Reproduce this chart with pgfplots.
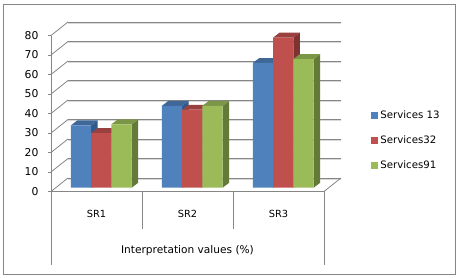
\documentclass[border=0pt]{standalone}
\usepackage{pgfplots}
\pgfplotsset{compat=1.18}
\usepackage{fontspec}
\setmainfont{DejaVu Sans}
\definecolor{cb}{HTML}{4F81BD}\definecolor{cbt}{HTML}{3F6797}\definecolor{cbs}{HTML}{2F5A8B}
\definecolor{cr}{HTML}{C0504D}\definecolor{crt}{HTML}{9A403E}\definecolor{crs}{HTML}{7F3331}
\definecolor{cg}{HTML}{9BBB59}\definecolor{cgt}{HTML}{7C9647}\definecolor{cgs}{HTML}{647A38}
\definecolor{gl}{HTML}{868686}\definecolor{glb}{HTML}{D9D9D9}
\newcommand{\facets}[4]{%
 \pgfmathsetmacro{\xa}{#1-0.1113}\pgfmathsetmacro{\xb}{#1+0.1113}%
 \pgfmathsetmacro{\xc}{\xb+0.07}\pgfmathsetmacro{\xd}{\xa+0.07}\pgfmathsetmacro{\vt}{#2+2.5}%
 \addplot[fill=#4,draw=none,forget plot] coordinates {(\xb,0)(\xb,#2)(\xc,\vt)(\xc,2.5)};
 \addplot[fill=#3,draw=none,forget plot] coordinates {(\xa,#2)(\xb,#2)(\xc,\vt)(\xd,\vt)};
}
\pgfplotsset{base/.style={scale only axis,width=273pt,height=156pt,xmin=-0.5,xmax=2.5,ymin=0,ymax=80,clip=false,anchor=south west}}
\begin{document}
\begin{tikzpicture}
\useasboundingbox (0pt,0pt) rectangle (461pt,278pt);
\draw[gl,line width=0.8pt] (3.5pt,3.3pt) rectangle (455.5pt,273.3pt);
% back wall
\begin{axis}[base,at={(68pt,100pt)},axis lines=none]
\pgfplotsinvokeforeach{0,10,...,80}{
 \draw[glb,line width=0.9pt] (axis cs:-0.5,#1)++(0pt,-1pt) -- ++(273pt,0pt);
 \draw[gl,line width=0.8pt] (axis cs:-0.5,#1) -- (axis cs:2.5,#1);
}
\end{axis}
% front axes
\begin{axis}[base,at={(51pt,86.5pt)},
 axis lines=left,axis line style={gl,line width=0.8pt,-},
 xtick={0,1,2},xticklabels={SR1,SR2,SR3},
 ytick={0,10,...,80},
 tick style={gl,line width=0.8pt},
 tick align=outside,major tick length=3.5pt,
 x tick style={draw=none},
 xticklabel style={font=\fontsize{9.8}{11}\selectfont,yshift=-12pt,text=black},
 yticklabel style={font=\fontsize{10.8}{12}\selectfont,text=black,xshift=-5.5pt},
 /pgf/number format/assume math mode=true,
 xlabel={Interpretation values (\%)},
 xlabel style={font=\fontsize{10.6}{12}\selectfont,at={(axis description cs:0.5,0)},anchor=center,yshift=-59.5pt},
]
\pgfplotsinvokeforeach{0,10,...,80}{
 \draw[gl,line width=0.8pt] (axis cs:-0.5,#1) -- ++(17pt,13.5pt);
}
\draw[gl,line width=0.8pt] (axis cs:2.5,0) -- ++(17pt,13.5pt);
\draw[gl,line width=0.8pt] (axis cs:2.5,0) -- (axis cs:2.5,-37.7);
\draw[gl,line width=0.8pt] (axis cs:-0.5,0) -- (axis cs:-0.5,-37.7);
\draw[gl,line width=0.8pt] (axis cs:0.5,0) -- (axis cs:0.5,-19);
\draw[gl,line width=0.8pt] (axis cs:1.5,0) -- (axis cs:1.5,-19);
\end{axis}
% bars
\begin{axis}[base,at={(55.8pt,90.3pt)},axis lines=none,
 legend image code/.code={\path[#1,draw=none] (0pt,-3.5pt) rectangle (7pt,3.5pt);},
 legend cell align=left,
 legend style={at={(1.2845,0.303)},anchor=center,draw=none,fill=none,row sep=11.5pt,
   font=\fontsize{10.2}{11}\selectfont,inner sep=0pt,/tikz/every even column/.append style={column sep=4pt}},
]
\facets{-0.2225}{32}{cbt}{cbs}\facets{0.7775}{42}{cbt}{cbs}\facets{1.7775}{64}{cbt}{cbs}
\addplot[ybar,bar width=0.2225,bar shift=-0.2225,fill=cb,draw=none] coordinates {(0,32)(1,42)(2,64)};
\addlegendentry{Services 13}
\facets{0}{28}{crt}{crs}\facets{1}{40}{crt}{crs}\facets{2}{77}{crt}{crs}
\addplot[ybar,bar width=0.2225,bar shift=0,fill=cr,draw=none] coordinates {(0,28)(1,40)(2,77)};
\addlegendentry{Services32}
\facets{0.2225}{32.5}{cgt}{cgs}\facets{1.2225}{42}{cgt}{cgs}\facets{2.2225}{66}{cgt}{cgs}
\addplot[ybar,bar width=0.2225,bar shift=0.2225,fill=cg,draw=none] coordinates {(0,32.5)(1,42)(2,66)};
\addlegendentry{Services91}
\end{axis}
\end{tikzpicture}
\end{document}
